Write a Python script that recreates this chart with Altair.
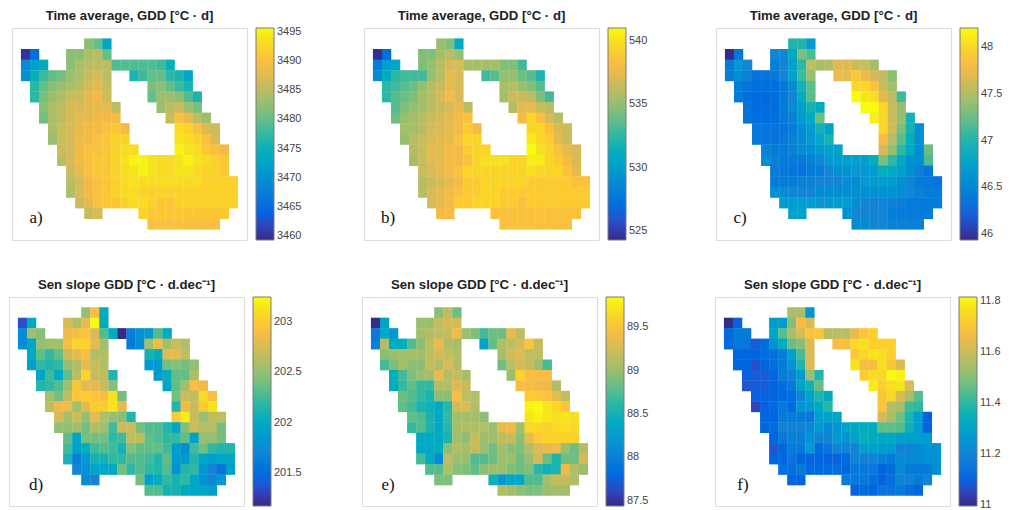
import altair as alt
import pandas as pd

# Columns occupied by each grid row, as (first, last) spans
SPANS = [
    [(7, 9)], [(0, 1), (5, 9)], [(0, 2), (5, 16)], [(0, 9), (12, 18)],
    [(1, 9), (14, 18)], [(1, 9), (14, 19)], [(2, 10), (15, 19)], [(2, 10), (16, 20)],
    [(3, 11), (17, 21)], [(3, 11), (17, 21)], [(4, 12), (17, 22)], [(4, 22)],
    [(5, 22)], [(5, 23)], [(5, 23)], [(6, 23)], [(7, 8), (13, 22)], [(14, 21)],
]

PANEL_A = [
    [3482, 3480, 3473],
    [3460, 3465, 3482, 3482, 3484, 3485, 3480],
    [3469, 3472, 3474, 3482, 3484, 3485, 3485, 3485, 3479, 3479, 3479, 3479, 3479, 3478, 3475],
    [3470, 3475, 3478, 3480, 3481, 3483, 3484, 3486, 3487, 3485, 3476, 3478, 3480, 3480, 3477, 3476, 3473],
    [3477, 3480, 3482, 3483, 3484, 3485, 3487, 3488, 3486, 3481, 3482, 3480, 3478, 3476],
    [3477, 3481, 3483, 3484, 3486, 3486, 3488, 3489, 3486, 3480, 3483, 3483, 3482, 3479, 3476],
    [3482, 3484, 3485, 3487, 3487, 3488, 3488, 3488, 3485, 3483, 3485, 3486, 3483, 3481],
    [3481, 3484, 3485, 3487, 3488, 3488, 3489, 3489, 3489, 3486, 3490, 3488, 3485, 3483],
    [3484, 3486, 3487, 3488, 3489, 3489, 3490, 3491, 3489, 3493, 3492, 3490, 3487, 3486],
    [3483, 3486, 3487, 3489, 3489, 3490, 3491, 3492, 3492, 3494, 3493, 3492, 3490, 3487],
    [3486, 3487, 3489, 3490, 3490, 3491, 3492, 3493, 3493, 3495, 3494, 3493, 3491, 3490, 3489],
    [3485, 3487, 3489, 3490, 3491, 3491, 3492, 3494, 3495, 3495, 3494, 3493, 3493, 3494, 3495, 3494, 3493, 3492, 3491],
    [3486, 3488, 3490, 3491, 3491, 3492, 3493, 3494, 3495, 3494, 3493, 3493, 3494, 3494, 3493, 3492, 3492, 3491],
    [3485, 3487, 3489, 3490, 3491, 3492, 3493, 3494, 3493, 3493, 3493, 3493, 3493, 3493, 3493, 3492, 3492, 3492, 3492],
    [3484, 3487, 3489, 3490, 3491, 3492, 3493, 3493, 3492, 3492, 3492, 3492, 3492, 3492, 3492, 3492, 3492, 3492, 3492],
    [3486, 3488, 3490, 3491, 3491, 3492, 3493, 3493, 3492, 3491, 3491, 3492, 3492, 3492, 3492, 3492, 3492, 3492],
    [3486, 3487, 3492, 3491, 3491, 3491, 3491, 3491, 3491, 3491, 3491, 3491],
    [3490, 3490, 3490, 3490, 3490, 3490, 3490, 3490],
]

PANEL_B = [
    [535, 534.5, 531],
    [524.5, 527, 534.5, 534.5, 535.5, 536, 535],
    [528, 530, 530.5, 534.5, 535, 536, 537, 537, 535.5, 535.5, 535.5, 535.5, 534.5, 534.5, 533],
    [529, 531, 532.5, 533, 533, 533, 535, 536, 537.5, 537, 533, 533.5, 535, 535, 534, 533.5, 532],
    [532.5, 533, 533.5, 534, 535, 536, 536.5, 537.5, 537, 535.5, 536, 535, 534.5, 533.5],
    [532.5, 533.5, 534, 534.5, 535.5, 536, 537, 538, 537, 535.5, 536.5, 536.5, 536, 534.5, 533],
    [533.5, 534.5, 535, 535.5, 536, 536.5, 537, 537.5, 536, 536, 537.5, 537.5, 536.5, 536],
    [534, 535, 535.5, 536, 536.5, 537, 537.5, 538, 538.5, 538, 539.5, 538.5, 537, 536],
    [535.5, 535.5, 536, 537, 537, 537.5, 538, 539, 538, 539.5, 539.5, 538.5, 537, 536.5],
    [535, 536, 536.5, 537, 537.5, 537.5, 538.5, 539.5, 539.5, 540.5, 539.5, 539, 537.5, 536.5],
    [536, 536.5, 537.5, 537.5, 538, 538, 539, 539.5, 539.5, 541, 540, 539.5, 538.5, 537.5, 537],
    [535.5, 536.5, 537.5, 537.5, 538, 538, 538.5, 539.5, 540, 540, 540, 539.5, 539.5, 540.5, 540.5, 539.5, 539, 538, 537],
    [536.5, 537, 537.5, 538, 538.5, 539.5, 539.5, 539.5, 539.5, 539.5, 539.5, 539.5, 540, 539.5, 539.5, 539.5, 538.5, 537.5],
    [536, 536.5, 537, 537.5, 538, 539, 539, 539.5, 539.5, 539.5, 539.5, 539.5, 539, 539, 539, 539, 539, 538.5, 538.5],
    [536, 537, 537.5, 538, 538.5, 539, 539, 539.5, 539.5, 539, 539, 539, 539, 539, 539, 539, 539, 539, 539],
    [537, 537.5, 538, 539, 539, 539.5, 539.5, 539.5, 539, 539, 538.5, 539, 539, 539, 539, 539, 539, 539],
    [538, 538, 538.5, 538.5, 538.5, 538.5, 538.5, 538.5, 538.5, 538.5, 538.5, 538.5],
    [538.5, 538.5, 538.5, 538.5, 538.5, 538.5, 538.5, 538.5],
]

PANEL_C = [
    [47.0, 47.0, 46.7],
    [45.95, 46.35, 46.5, 46.52, 46.85, 47.3, 47.15],
    [46.42, 46.65, 46.52, 46.45, 46.52, 46.75, 47.05, 47.55, 47.45, 47.5, 47.7, 47.7, 47.6, 47.6, 47.45],
    [46.45, 46.57, 46.48, 46.35, 46.35, 46.4, 46.52, 46.75, 47.1, 47.4, 47.75, 47.75, 47.9, 47.75, 47.65, 47.55, 47.35],
    [46.45, 46.35, 46.32, 46.32, 46.32, 46.4, 46.57, 46.95, 47.2, 48.0, 48.0, 47.85, 47.6, 47.45],
    [46.4, 46.32, 46.3, 46.27, 46.32, 46.4, 46.52, 46.9, 47.2, 48.2, 48.1, 48.05, 47.7, 47.55, 47.1],
    [46.35, 46.3, 46.3, 46.3, 46.43, 46.57, 46.75, 46.95, 46.85, 48.2, 48.2, 48.0, 47.6, 47.4],
    [46.35, 46.32, 46.3, 46.32, 46.4, 46.48, 46.7, 46.85, 47.25, 48.15, 48.0, 47.6, 47.4, 46.95],
    [46.4, 46.35, 46.35, 46.35, 46.43, 46.57, 46.7, 46.95, 46.75, 48.0, 47.65, 47.3, 46.95, 46.6],
    [46.4, 46.35, 46.35, 46.4, 46.48, 46.57, 46.65, 46.8, 46.95, 47.8, 47.5, 47.2, 46.9, 46.57],
    [46.48, 46.43, 46.43, 46.48, 46.57, 46.6, 46.7, 46.75, 46.75, 47.65, 47.4, 47.05, 46.85, 46.57, 47.25],
    [46.57, 46.48, 46.4, 46.4, 46.4, 46.48, 46.52, 46.65, 46.7, 46.75, 46.75, 46.75, 46.9, 47.3, 47.05, 46.85, 46.6, 46.57, 47.15],
    [46.43, 46.4, 46.35, 46.35, 46.43, 46.43, 46.52, 46.6, 46.6, 46.65, 46.65, 46.7, 46.9, 46.85, 46.75, 46.57, 46.48, 46.35],
    [46.43, 46.43, 46.43, 46.48, 46.48, 46.52, 46.52, 46.52, 46.57, 46.57, 46.65, 46.7, 46.7, 46.7, 46.6, 46.52, 46.43, 46.4, 46.35],
    [46.6, 46.57, 46.52, 46.52, 46.52, 46.57, 46.57, 46.57, 46.57, 46.6, 46.6, 46.6, 46.6, 46.6, 46.57, 46.52, 46.48, 46.43, 46.43],
    [46.7, 46.7, 46.7, 46.7, 46.65, 46.65, 46.7, 46.7, 46.57, 46.52, 46.52, 46.52, 46.48, 46.48, 46.43, 46.43, 46.43, 46.43],
    [46.75, 46.75, 46.6, 46.52, 46.52, 46.52, 46.52, 46.43, 46.43, 46.43, 46.43, 46.43],
    [46.57, 46.57, 46.52, 46.52, 46.48, 46.48, 46.48, 46.48],
]

PANEL_D = [
    [202.5, 202.9, 202.0],
    [201.35, 202.0, 202.75, 202.6, 202.8, 203.25, 202.0],
    [201.75, 202.55, 202.45, 202.85, 202.9, 202.95, 202.75, 202.3, 202.05, 201.17, 201.65, 201.8, 201.85, 202.3, 202.0],
    [201.75, 201.95, 202.5, 202.55, 202.55, 202.9, 203.05, 203.05, 202.8, 202.55, 201.6, 201.75, 202.55, 202.85, 202.55, 202.7, 202.6],
    [202.0, 202.35, 202.2, 202.35, 202.7, 202.8, 202.9, 202.6, 202.6, 202.1, 202.05, 202.8, 202.8, 202.65],
    [201.9, 202.2, 202.15, 202.2, 202.5, 202.6, 202.8, 202.7, 202.6, 201.85, 201.85, 202.4, 202.45, 202.4, 202.5],
    [201.95, 202.25, 202.0, 202.35, 202.65, 203.05, 202.7, 202.65, 202.15, 201.85, 202.05, 202.35, 202.35, 202.6],
    [202.15, 202.2, 202.3, 202.55, 202.95, 202.8, 202.8, 202.7, 202.45, 201.95, 202.35, 202.55, 202.9, 202.85],
    [202.55, 202.4, 202.65, 202.95, 203.0, 202.95, 202.9, 203.15, 202.4, 202.4, 202.7, 202.65, 203.1, 202.9],
    [202.65, 202.85, 202.85, 202.55, 202.8, 203.0, 203.0, 203.15, 202.8, 202.15, 202.85, 202.7, 203.0, 203.15],
    [202.75, 202.55, 202.7, 202.5, 202.8, 202.6, 202.5, 202.45, 202.15, 203.0, 203.2, 202.7, 202.5, 202.65, 202.65],
    [202.5, 202.5, 202.55, 202.4, 202.6, 202.55, 202.25, 202.7, 202.7, 202.4, 202.3, 202.3, 202.15, 201.95, 202.45, 202.7, 202.6, 202.6, 202.4],
    [202.35, 201.95, 202.4, 202.4, 202.4, 202.2, 202.25, 202.65, 202.65, 202.35, 202.3, 202.2, 202.2, 202.35, 201.9, 202.5, 202.5, 202.4],
    [202.25, 201.9, 202.05, 202.25, 202.3, 202.25, 202.1, 202.45, 202.35, 202.35, 202.35, 202.25, 201.9, 201.75, 202.25, 202.4, 202.2, 202.15, 202.15],
    [202.1, 201.65, 201.85, 202.1, 202.1, 202.2, 202.2, 202.3, 202.3, 202.25, 202.15, 202.35, 201.85, 201.85, 202.15, 201.95, 201.9, 201.95, 201.95],
    [201.7, 201.8, 201.95, 201.95, 202.0, 202.4, 202.2, 202.3, 202.2, 202.15, 202.3, 201.8, 202.15, 202.2, 201.85, 201.7, 201.55, 201.9],
    [201.75, 201.7, 202.4, 201.9, 202.05, 202.2, 202.1, 202.2, 201.95, 201.8, 201.7, 201.85],
    [202.3, 202.3, 202.1, 202.1, 202.0, 201.95, 201.95, 201.9],
]

PANEL_E = [
    [88.95, 89.15, 88.85],
    [87.45, 88.3, 89.0, 89.0, 89.2, 89.25, 89.25],
    [87.9, 88.35, 88.2, 89.05, 89.1, 89.15, 89.2, 89.4, 89.0, 88.9, 88.7, 88.85, 88.85, 89.35, 89.15],
    [88.0, 89.1, 88.45, 88.45, 88.75, 88.95, 89.15, 89.35, 89.1, 89.05, 88.3, 88.8, 89.1, 89.15, 89.25, 89.5, 89.2],
    [88.95, 89.0, 89.05, 89.05, 89.05, 89.15, 89.25, 89.2, 89.1, 89.05, 89.25, 89.3, 89.15, 89.15],
    [88.7, 88.9, 89.05, 88.95, 88.95, 89.2, 89.1, 89.3, 89.1, 88.85, 89.15, 89.25, 89.2, 89.0, 88.7],
    [88.45, 88.7, 88.9, 89.0, 89.05, 89.35, 89.1, 89.2, 89.05, 89.0, 89.6, 89.45, 89.45, 89.45],
    [88.45, 88.65, 88.8, 88.65, 88.65, 89.1, 89.1, 89.3, 89.2, 89.45, 89.45, 89.4, 89.4, 89.1],
    [88.85, 88.75, 88.65, 88.55, 88.95, 88.95, 89.45, 89.15, 89.1, 89.55, 89.55, 89.5, 89.35, 89.15],
    [88.8, 88.7, 88.55, 88.5, 88.4, 88.6, 89.25, 89.3, 89.1, 89.8, 89.85, 89.75, 89.65, 89.5],
    [88.8, 88.75, 88.55, 88.4, 88.65, 89.05, 89.05, 89.05, 88.95, 89.75, 89.8, 89.75, 89.7, 89.75, 89.7],
    [88.65, 88.75, 88.55, 88.4, 88.6, 89.05, 89.1, 89.1, 89.1, 89.0, 89.35, 89.4, 89.05, 89.65, 89.65, 89.6, 89.65, 89.7, 89.65],
    [88.4, 88.4, 88.4, 88.55, 89.05, 88.95, 89.2, 89.0, 89.05, 89.15, 89.2, 88.95, 89.35, 89.55, 89.6, 89.6, 89.6, 89.6],
    [88.4, 88.35, 88.45, 88.95, 89.1, 89.05, 89.2, 89.0, 88.85, 89.05, 88.95, 88.9, 89.1, 89.3, 89.35, 89.4, 89.0, 88.85, 89.1],
    [88.7, 88.45, 88.1, 89.15, 89.0, 89.0, 88.75, 88.75, 88.85, 89.0, 89.0, 88.85, 89.0, 89.25, 88.85, 88.55, 88.85, 88.85, 89.25],
    [88.75, 88.75, 89.1, 88.95, 88.9, 88.8, 88.95, 89.0, 89.0, 88.9, 88.85, 88.9, 88.6, 88.5, 88.55, 89.4, 89.1, 89.0],
    [88.9, 88.9, 88.5, 88.2, 88.35, 88.35, 88.75, 88.75, 89.05, 89.2, 89.2, 89.1],
    [89.1, 89.05, 88.95, 88.9, 88.9, 89.0, 89.05, 89.05],
]

PANEL_F = [
    [11.55, 11.55, 11.25],
    [11.0, 11.1, 11.27, 11.27, 11.5, 11.68, 11.62],
    [11.12, 11.18, 11.18, 11.3, 11.45, 11.55, 11.62, 11.7, 11.7, 11.57, 11.57, 11.57, 11.65, 11.7, 11.73],
    [11.12, 11.17, 11.15, 11.09, 11.12, 11.24, 11.33, 11.47, 11.5, 11.63, 11.68, 11.68, 11.75, 11.77, 11.73, 11.73, 11.73],
    [11.11, 11.11, 11.11, 11.13, 11.14, 11.18, 11.28, 11.43, 11.62, 11.7, 11.74, 11.78, 11.76, 11.73],
    [11.11, 11.11, 11.07, 11.11, 11.14, 11.18, 11.25, 11.38, 11.63, 11.78, 11.68, 11.68, 11.76, 11.7, 11.63],
    [11.1, 11.09, 11.09, 11.11, 11.18, 11.2, 11.27, 11.53, 11.38, 11.72, 11.76, 11.75, 11.82, 11.8],
    [11.08, 11.09, 11.09, 11.11, 11.13, 11.17, 11.3, 11.36, 11.47, 11.79, 11.72, 11.76, 11.78, 11.63],
    [11.1, 11.1, 11.11, 11.12, 11.13, 11.2, 11.3, 11.38, 11.33, 11.7, 11.75, 11.63, 11.55, 11.45],
    [11.05, 11.1, 11.12, 11.16, 11.12, 11.25, 11.26, 11.33, 11.39, 11.7, 11.57, 11.55, 11.42, 11.4],
    [11.11, 11.11, 11.18, 11.18, 11.18, 11.16, 11.28, 11.3, 11.3, 11.62, 11.55, 11.48, 11.38, 11.28, 11.11],
    [11.11, 11.13, 11.2, 11.2, 11.2, 11.22, 11.27, 11.22, 11.25, 11.3, 11.33, 11.34, 11.34, 11.46, 11.46, 11.45, 11.36, 11.27, 11.1],
    [11.11, 11.16, 11.19, 11.19, 11.24, 11.2, 11.2, 11.27, 11.25, 11.28, 11.35, 11.32, 11.32, 11.32, 11.28, 11.28, 11.28, 11.27],
    [11.08, 11.11, 11.18, 11.17, 11.27, 11.13, 11.15, 11.2, 11.2, 11.2, 11.28, 11.28, 11.27, 11.27, 11.2, 11.2, 11.22, 11.24, 11.24],
    [11.11, 11.11, 11.15, 11.11, 11.11, 11.11, 11.1, 11.1, 11.12, 11.2, 11.2, 11.2, 11.19, 11.17, 11.22, 11.22, 11.22, 11.24, 11.24],
    [11.14, 11.14, 11.17, 11.12, 11.12, 11.13, 11.14, 11.11, 11.17, 11.17, 11.16, 11.11, 11.13, 11.22, 11.18, 11.17, 11.18, 11.23],
    [11.11, 11.11, 11.18, 11.16, 11.16, 11.14, 11.1, 11.14, 11.2, 11.2, 11.18, 11.2],
    [11.1, 11.13, 11.11, 11.15, 11.15, 11.18, 11.14, 11.11],
]

TITLE_MEAN = "Time average, GDD [°C · d]"
TITLE_SLOPE = "Sen slope GDD [°C · d.dec⁻¹]"

PARULA = ["#352A87", "#3243BA", "#0363E1", "#0D75DC", "#1485D4", "#0998D1", "#06A7C6", "#15B1B4",
          "#38B99E", "#65BE86", "#92BF73", "#B7BD64", "#D9BA56", "#F8BB44", "#FCCE2E", "#F5E41D", "#F9FB0E"]
PARULA_POS = [0, 4, 8, 12, 16, 20, 24, 28, 32, 36, 40, 44, 48, 52, 56, 60, 63]

FRAME = "#808080"
X_CELLS = list(range(-1, 25))
Y_CELLS = list(range(-1, 19))


def flatten(rows, field):
    out = []
    assert len(rows) == len(SPANS)
    for r, (vals, spans) in enumerate(zip(rows, SPANS)):
        cols = [c for a, b in spans for c in range(a, b + 1)]
        assert len(cols) == len(vals), (r, len(cols), len(vals))
        out += [{"col": c, "row": r, field: v} for c, v in zip(cols, vals)]
    return pd.DataFrame(out)


def panel(rows, title, label, lo, hi, ticks, fmt, h, lx, ly):
    field = "v_" + label[0]
    domain = [lo + (hi - lo) * p / 63 for p in PARULA_POS]
    df = flatten(rows, field)
    scale = alt.Scale(domain=domain, range=PARULA, clamp=True)
    cells = alt.Chart(df).mark_rect(width=9.3, height=h / 20 + 0.4).encode(
        x=alt.X("col:O", axis=None, scale=alt.Scale(domain=X_CELLS, paddingInner=0, paddingOuter=0)),
        y=alt.Y("row:O", axis=None, scale=alt.Scale(domain=Y_CELLS, paddingInner=0, paddingOuter=0)),
        color=alt.Color(
            field + ":Q",
            scale=scale,
            legend=alt.Legend(
                type="gradient", title=None, orient="none", legendX=244, legendY=0, direction="vertical",
                gradientLength=h, gradientThickness=18, gradientStrokeColor="#7a7a7a",
                gradientStrokeWidth=1, values=ticks, format=fmt, labelFont="Liberation Sans",
                labelFontSize=11, labelColor="#444444", labelOffset=3, labelOverlap=False,
            ),
        ),
    )
    tag = alt.Chart(pd.DataFrame({"t": [label]})).mark_text(
        font="Liberation Serif", fontSize=17, color="#111111", align="center", baseline="middle"
    ).encode(text="t:N", x=alt.value(lx), y=alt.value(ly))
    return alt.layer(cells, tag).properties(
        width=235, height=h,
        title=alt.TitleParams(title, font="Liberation Sans", fontSize=13.2, fontWeight="bold",
                              color="#222222", offset=5, anchor="middle"),
    )


a = panel(PANEL_A, TITLE_MEAN, "a)", 3459.3, 3495.7, [3460, 3465, 3470, 3475, 3480, 3485, 3490, 3495], ".0f", 212, 24, 190)
b = panel(PANEL_B, TITLE_MEAN, "b)", 524.3, 541.0, [525, 530, 535, 540], ".0f", 212, 24, 190)
c = panel(PANEL_C, TITLE_MEAN, "c)", 45.94, 48.2, [46, 46.5, 47, 47.5, 48], ".1~f", 212, 24, 190)
d = panel(PANEL_D, TITLE_SLOPE, "d)", 201.17, 203.25, [201.5, 202, 202.5, 203], ".1~f", 209, 27, 188)
e = panel(PANEL_E, TITLE_SLOPE, "e)", 87.44, 89.85, [87.5, 88, 88.5, 89, 89.5], ".1~f", 209, 26, 188)
f = panel(PANEL_F, TITLE_SLOPE, "f)", 10.998, 11.816, [11, 11.2, 11.4, 11.6, 11.8], ".1~f", 209, 28, 188)

spacer = alt.Chart(pd.DataFrame({"t": [""]})).mark_text().encode(
    text="t:N", x=alt.value(0), y=alt.value(0)
).properties(width=3, height=1, view=alt.ViewConfig(stroke=None))

top = alt.hconcat(
    spacer,
    alt.hconcat(a, b, c, spacing=117, bounds="flush").resolve_scale(color="independent"),
    spacing=0, bounds="flush",
).resolve_scale(color="independent")
bottom = alt.hconcat(d, e, f, spacing=118, bounds="flush").resolve_scale(color="independent")
chart = alt.vconcat(top, bottom, spacing=35).resolve_scale(color="independent").properties(
    padding={"left": 1, "top": 20, "right": 993, "bottom": 482},
    autosize=alt.AutoSizeParams(type="none"),
).configure_view(stroke=FRAME, strokeWidth=1.5).configure(background="white")

chart.save("out.html", embed_options={"renderer": "svg", "actions": False})
